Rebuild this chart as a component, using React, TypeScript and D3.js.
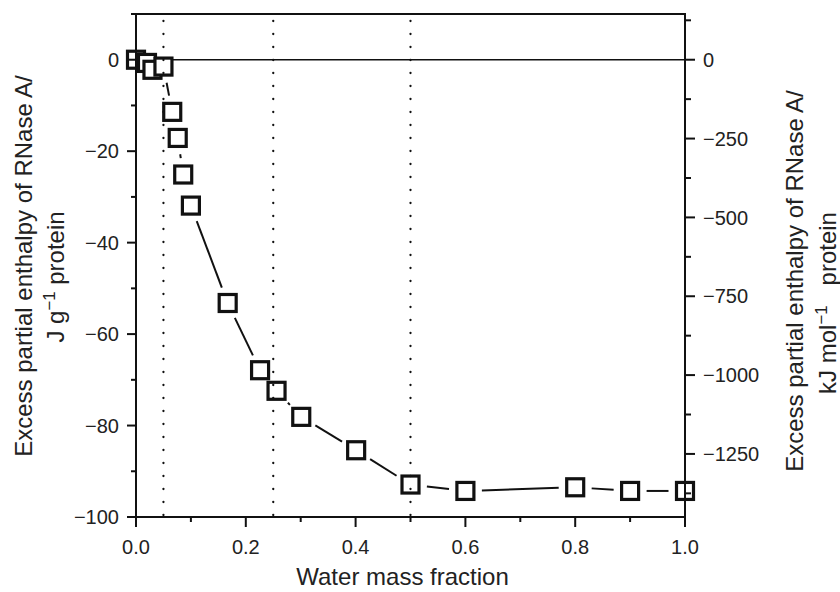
import React from "react";
import * as d3 from "d3";

// ---- data ----
const waterFraction = [0, 0.02, 0.03, 0.05, 0.066, 0.076, 0.086, 0.1, 0.167, 0.226, 0.256, 0.301, 0.401, 0.5, 0.6, 0.8, 0.9, 1.0];
const enthalpyJg = [0, -0.7, -2.2, -1.5, -11.4, -17.1, -25.1, -31.9, -53.2, -67.9, -72.4, -78.1, -85.4, -92.9, -94.3, -93.5, -94.3, -94.3];
const dottedLines = [0.05, 0.25, 0.5];

const xMajorTicks = [0, 0.2, 0.4, 0.6, 0.8, 1.0];
const xMinorTicks = [0.1, 0.3, 0.5, 0.7, 0.9];
const yLeftMajor = [0, -20, -40, -60, -80, -100];
const yLeftMinor = [10, -10, -30, -50, -70, -90];
const yRightMajor = [0, -250, -500, -750, -1000, -1250];
const yRightMinor = [125, -125, -375, -625, -875, -1125, -1375];

const W = 840, H = 592;
const L = 136, R = 685, T = 14, B = 517;

const fmtMinus = (v: number, s: string) => (v < 0 ? "\u2212" + s.replace("-", "") : s);

export default function App() {
  const x = d3.scaleLinear().domain([0, 1]).range([L, R]);
  const yL = d3.scaleLinear().domain([-100, 10]).range([B, T]);
  const yR = d3.scaleLinear().domain([-1450, 145]).range([B, T]);

  const pts = waterFraction.map((w, i) => [x(w), yL(enthalpyJg[i])] as [number, number]);
  const gap = 16.5;
  const segs: [number, number, number, number][] = [];
  for (let i = 0; i < pts.length - 1; i++) {
    const [x1, y1] = pts[i];
    const [x2, y2] = pts[i + 1];
    const d = Math.hypot(x2 - x1, y2 - y1);
    if (d <= 2 * gap) continue;
    const ux = (x2 - x1) / d, uy = (y2 - y1) / d;
    segs.push([x1 + ux * gap, y1 + uy * gap, x2 - ux * gap, y2 - uy * gap]);
  }

  const font = "'Liberation Sans', Arial, Helvetica, sans-serif";
  const tickFs = 20;
  const titleFs = 24;
  const sq = 17;

  return (
    <svg width={W} height={H} style={{ position: "absolute", left: 0, top: 0, background: "#fff" }} fontFamily={font}>
      <rect x={0} y={0} width={W} height={H} fill="#fff" />
      {/* zero line */}
      <line x1={L} x2={R} y1={yL(0)} y2={yL(0)} stroke="#111" strokeWidth={1.6} />
      {/* connecting segments */}
      {segs.map((s, i) => (
        <line key={"s" + i} x1={s[0]} y1={s[1]} x2={s[2]} y2={s[3]} stroke="#111" strokeWidth={2} />
      ))}
      {/* squares */}
      {pts.map((p, i) => (
        <rect key={"p" + i} x={p[0] - sq / 2} y={p[1] - sq / 2} width={sq} height={sq} fill="#fff" stroke="#111" strokeWidth={3.2} />
      ))}
      {/* dotted vertical lines */}
      {dottedLines.map((v, i) => (
        <line key={"d" + i} x1={x(v)} x2={x(v)} y1={T + 7} y2={B} stroke="#111" strokeWidth={2.3} strokeLinecap="round" strokeDasharray="0 13" />
      ))}
      {/* frame */}
      <rect x={L} y={T} width={R - L} height={B - T} fill="none" stroke="#111" strokeWidth={2} />
      {/* bottom axis ticks */}
      {xMajorTicks.map((v) => (
        <g key={"xm" + v}>
          <line x1={x(v)} x2={x(v)} y1={B} y2={B + 10} stroke="#111" strokeWidth={2} />
          <text x={x(v)} y={B + 37} fontSize={tickFs} textAnchor="middle" fill="#222">{d3.format(".1f")(v)}</text>
        </g>
      ))}
      {xMinorTicks.map((v) => (
        <line key={"xn" + v} x1={x(v)} x2={x(v)} y1={B} y2={B + 5} stroke="#111" strokeWidth={2} />
      ))}
      {/* left axis */}
      {yLeftMajor.map((v) => (
        <g key={"yl" + v}>
          <line x1={L - 9} x2={L} y1={yL(v)} y2={yL(v)} stroke="#111" strokeWidth={2} />
          <text x={L - 17} y={yL(v)} dy="0.36em" fontSize={tickFs} textAnchor="end" fill="#222">{fmtMinus(v, String(v))}</text>
        </g>
      ))}
      {yLeftMinor.map((v) => (
        <line key={"yln" + v} x1={L - 5} x2={L} y1={yL(v)} y2={yL(v)} stroke="#111" strokeWidth={2} />
      ))}
      {/* right axis */}
      {yRightMajor.map((v) => (
        <g key={"yr" + v}>
          <line x1={R} x2={R + 10} y1={yR(v)} y2={yR(v)} stroke="#111" strokeWidth={2} />
          <text x={R + 18} y={yR(v)} dy="0.36em" fontSize={tickFs} textAnchor="start" fill="#222">{fmtMinus(v, String(v))}</text>
        </g>
      ))}
      {yRightMinor.map((v) => (
        <line key={"yrn" + v} x1={R} x2={R + 6} y1={yR(v)} y2={yR(v)} stroke="#111" strokeWidth={2} />
      ))}
      {/* x title */}
      <text x={(L + R) / 2 - 8} y={585} fontSize={titleFs} textAnchor="middle" fill="#222">Water mass fraction</text>
      {/* left title */}
      <text transform={`translate(32,266) rotate(-90)`} fontSize={titleFs} textAnchor="middle" fill="#222">Excess partial enthalpy of RNase A/</text>
      <text transform={`translate(64,277) rotate(-90)`} fontSize={titleFs} textAnchor="middle" fill="#222">
        J g<tspan fontSize={titleFs * 0.7} dy={-9}>{"\u22121"}</tspan><tspan dy={9}>{"  protein"}</tspan>
      </text>
      {/* right title */}
      <text transform={`translate(803,281) rotate(-90)`} fontSize={titleFs} textAnchor="middle" fill="#222">Excess partial enthalpy of RNase A/</text>
      <text transform={`translate(836,303) rotate(-90)`} fontSize={titleFs} textAnchor="middle" fill="#222">
        kJ mol<tspan fontSize={titleFs * 0.7} dy={-9}>{"\u22121"}</tspan><tspan dy={9} xmlSpace="preserve">{"   protein"}</tspan>
      </text>
    </svg>
  );
}
